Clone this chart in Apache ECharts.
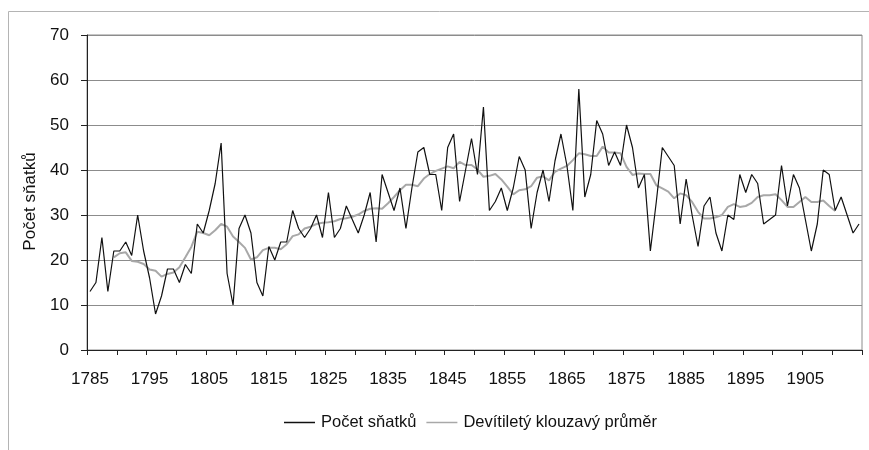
<!DOCTYPE html>
<html>
<head>
<meta charset="utf-8">
<script src="https://cdn.jsdelivr.net/npm/echarts@6/dist/echarts.min.js"></script>
<style>
  html, body { margin: 0; padding: 0; background: #fff; }
  #chart { width: 869px; height: 450px; }
</style>
</head>
<body>
<div id="chart"></div>
<script>
// roky 1785 - 1914
var years = [
  '1785','1786','1787','1788','1789','1790','1791','1792','1793','1794',
  '1795','1796','1797','1798','1799','1800','1801','1802','1803','1804',
  '1805','1806','1807','1808','1809','1810','1811','1812','1813','1814',
  '1815','1816','1817','1818','1819','1820','1821','1822','1823','1824',
  '1825','1826','1827','1828','1829','1830','1831','1832','1833','1834',
  '1835','1836','1837','1838','1839','1840','1841','1842','1843','1844',
  '1845','1846','1847','1848','1849','1850','1851','1852','1853','1854',
  '1855','1856','1857','1858','1859','1860','1861','1862','1863','1864',
  '1865','1866','1867','1868','1869','1870','1871','1872','1873','1874',
  '1875','1876','1877','1878','1879','1880','1881','1882','1883','1884',
  '1885','1886','1887','1888','1889','1890','1891','1892','1893','1894',
  '1895','1896','1897','1898','1899','1900','1901','1902','1903','1904',
  '1905','1906','1907','1908','1909','1910','1911','1912','1913','1914'
];

// počet sňatků v jednotlivých letech
var marriages = [
  13, 15, 25, 13, 22, 22, 24, 21, 30, 22,
  16, 8, 12, 18, 18, 15, 19, 17, 28, 26,
  31, 37, 46, 17, 10, 27, 30, 26, 15, 12,
  23, 20, 24, 24, 31, 27, 25, 27, 30, 25,
  35, 25, 27, 32, 29, 26, 30, 35, 24, 39,
  35, 31, 36, 27, 36, 44, 45, 39, 39, 31,
  45, 48, 33, 40, 47, 39, 54, 31, 33, 36,
  31, 36, 43, 40, 27, 35, 40, 33, 42, 48,
  41, 31, 58, 34, 39, 51, 48, 41, 44, 41,
  50, 45, 36, 39, 22, 33, 45, 43, 41, 28,
  38, 30, 23, 32, 34, 26, 22, 30, 29, 39,
  35, 39, 37, 28, 29, 30, 41, 32, 39, 36,
  29, 22, 28, 40, 39, 31, 34, 30, 26, 28
];

// devítiletý klouzavý průměr
var movingAvg = [
  null, null, null, null, 20.6, 21.5, 21.7, 19.8, 19.6, 19.1,
  17.9, 17.6, 16.3, 16.9, 17.2, 18.4, 20.6, 22.9, 26.3, 26.0,
  25.5, 26.6, 28.0, 27.4, 25.2, 24.0, 22.7, 20.1, 20.6, 22.2,
  22.7, 22.7, 22.4, 23.5, 25.3, 25.7, 27.0, 27.4, 28.0, 28.3,
  28.4, 28.6, 29.1, 29.3, 29.6, 30.1, 30.9, 31.4, 31.5, 31.4,
  32.6, 34.0, 35.5, 36.7, 36.7, 36.4, 38.1, 39.1, 39.8, 40.3,
  40.8, 40.4, 41.8, 41.1, 41.1, 40.1, 38.5, 38.7, 39.1, 37.9,
  36.3, 34.6, 35.5, 35.7, 36.4, 38.3, 38.6, 37.7, 39.6, 40.3,
  40.9, 42.2, 43.7, 43.5, 43.1, 43.1, 45.2, 43.9, 43.9, 43.7,
  40.7, 38.9, 39.2, 39.1, 39.1, 36.6, 35.9, 35.2, 33.7, 34.8,
  34.4, 32.9, 30.7, 29.2, 29.2, 29.5, 30.0, 31.8, 32.4, 31.8,
  32.0, 32.7, 34.0, 34.4, 34.4, 34.6, 33.3, 31.8, 31.8, 32.9,
  34.0, 32.9, 32.9, 33.2, 32.0, 30.9, null, null, null, null
];

var seriesNames = ['Počet sňatků', 'Devítiletý klouzavý průměr'];
var yTicks = [0, 10, 20, 30, 40, 50, 60, 70];

var font = 'Liberation Sans, Arial, sans-serif';
var chart = echarts.init(document.getElementById('chart'));

var option = {
  animation: false,
  backgroundColor: '#ffffff',
  textStyle: { fontFamily: font },
  graphic: [{
    type: 'rect',
    shape: { x: 8.5, y: 11.5, width: 900, height: 500 },
    style: { fill: 'none', stroke: '#b4b4b4', lineWidth: 1 },
    silent: true,
    z: -10
  }],
  grid: {
    left: 87, top: 35, right: 7, bottom: 100,
    show: true, borderColor: '#8c8c8c', borderWidth: 1
  },
  legend: {
    data: seriesNames,
    left: 279, top: 409,
    icon: 'rect',
    itemWidth: 31, itemHeight: 1.5, itemGap: 10,
    textStyle: { fontSize: 16.5, color: '#111', fontFamily: font, padding: [0, 0, 0, 1] }
  },
  xAxis: {
    type: 'category',
    data: years,
    boundaryGap: true,
    axisLine: { lineStyle: { color: '#222', width: 1 } },
    axisTick: { show: true, interval: 4, length: 5, lineStyle: { color: '#222', width: 1 } },
    axisLabel: { interval: 9, margin: 21, fontSize: 17, color: '#111', fontFamily: font },
    splitLine: { show: false }
  },
  yAxis: {
    type: 'value',
    min: yTicks[0], max: yTicks[yTicks.length - 1], interval: 10,
    name: 'Počet sňatků',
    nameLocation: 'middle',
    nameGap: 47,
    nameTextStyle: { fontSize: 17, color: '#111', fontFamily: font, padding: [0, 18, 0, 0] },
    axisLine: { show: true, lineStyle: { color: '#222', width: 1 } },
    axisTick: { show: true, length: 6, lineStyle: { color: '#222' } },
    axisLabel: { margin: 18, fontSize: 17, color: '#111', fontFamily: font },
    splitLine: { show: true, lineStyle: { color: '#8c8c8c', width: 1 } }
  },
  series: [
    {
      name: seriesNames[0],
      type: 'line',
      data: marriages,
      symbol: 'none',
      z: 3,
      lineStyle: { color: '#111', width: 1.2 },
      itemStyle: { color: '#111' }
    },
    {
      name: seriesNames[1],
      type: 'line',
      data: movingAvg,
      symbol: 'none',
      connectNulls: false,
      z: 2,
      lineStyle: { color: '#a8a8a8', width: 2 },
      itemStyle: { color: '#a8a8a8' }
    }
  ]
};

chart.setOption(option);
</script>
</body>
</html>
